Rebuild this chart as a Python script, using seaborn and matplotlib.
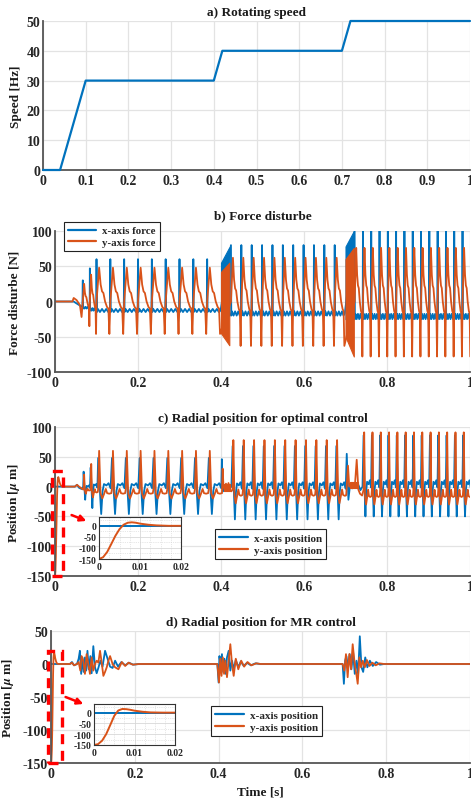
import numpy as np
import matplotlib
matplotlib.use("Agg")
import matplotlib.pyplot as plt
import seaborn as sns
from matplotlib.patches import Rectangle, FancyArrowPatch
from matplotlib.lines import Line2D

# ---------------- data ----------------
# a) rotating speed
speed_t = [0, 0.04, 0.10, 0.40, 0.42, 0.70, 0.72, 1.00]
speed_hz = [0, 0, 30, 30, 40, 40, 50, 50]

# b) force disturbance: one-revolution shapes (phase 0 = x spike)
b_x_phase = [0.00, 0.03, 0.10, 0.25, 0.40, 0.55, 0.70, 0.85, 0.97]
b_x_shape = [1.00, 0.00, 0.06, 0.00, 0.06, 0.00, 0.06, 0.00, 0.03]
b_y_phase = [0.00, 0.19, 0.30, 0.40, 0.50, 0.62, 0.76, 0.86, 0.93]
b_y_shape = [0.00, 1.00, 0.50, 0.30, 0.25, 0.00, -0.17, -0.22, -1.00]
b_seg_start = [0.100, 0.424, 0.722]
b_seg_end = [0.380, 0.690, 0.990]
b_seg_freq = [30, 40, 50]
b_x_peak = [60, 80, 100]
b_x_base = [-15, -20, -25]
b_y_peak = [48, 62, 76]
b_y_min = [-46, -63, -78]
b_acc_t = [0.067, 0.084]
b_acc_T = [0.017, 0.016]
b_acc_x_peak = [30, 47]
b_acc_x_base = [-10, -13]
b_acc_y_peak = [25, 38]
b_acc_y_min = [-35, -46]
b_pre_x_t = [0, 0.045, 0.050, 0.058, 0.066]
b_pre_x = [0, 0, -2, -5, -8]
b_pre_y_t = [0, 0.042, 0.045, 0.052, 0.060, 0.064]
b_pre_y = [0, 0, 5, 2, -5, -22]
b_block_t = [[0.400, 0.420], [0.700, 0.720]]
b_block_x_lo = [[-15, -20], [-25, -25]]
b_block_x_hi = [[55, 77], [78, 100]]
b_block_y_lo = [[-45, -62], [-50, -78]]
b_block_y_hi = [[42, 55], [60, 76]]

# c) optimal control position
c_x_phase = [0.00, 0.10, 0.22, 0.32, 0.42, 0.60, 0.75, 0.90]
c_x_shape = [1.00, 0.00, -1.00, -0.20, 0.05, 0.00, 0.08, -0.10]
c_y_phase = [0.00, 0.07, 0.17, 0.30, 0.42, 0.55, 0.65, 0.80, 0.95]
c_y_shape = [0.10, 1.00, 0.00, -1.00, -0.20, 0.10, 0.00, -0.10, 0.00]
c_seg_start = [0.104, 0.428, 0.7436]
c_seg_end = [0.380, 0.690, 0.990]
c_seg_freq = [30, 40, 50]
c_x_peak = [48, 68, 86]
c_x_base = [2, 2, 4]
c_x_min = [-46, -55, -50]
c_y_peak = [60, 78, 91]
c_y_base = [-11, -14, -16]
c_y_min = [-20, -28, -30]
c_acc_t = [0.069, 0.086]
c_acc_T = [0.017, 0.018]
c_acc_x_peak = [25, 32]
c_acc_x_base = [0, 2]
c_acc_x_min = [-22, -36]
c_acc_y_peak = [20, 38]
c_acc_y_base = [-6, -9]
c_acc_y_min = [-12, -18]
c_init_t = [0, 0.001, 0.002, 0.003, 0.004, 0.005, 0.006, 0.007, 0.008, 0.009, 0.010, 0.012, 0.014, 0.017, 0.020]
c_init_y = [-150, -142, -118, -82, -45, -15, 5, 14, 16, 14, 10, 5, 2, 0, 0]
c_pre_x_t = [0, 0.048, 0.053, 0.058, 0.064, 0.068]
c_pre_x = [0, 0, 3, -2, -4, 0]
c_pre_y_t = [0.030, 0.048, 0.053, 0.058, 0.064, 0.068]
c_pre_y = [0, 0, 3, 0, -3, -5]
c_tr1_x_t = [0.402, 0.405, 0.409, 0.413, 0.417, 0.421, 0.425]
c_tr1_x = [46, -8, 2, -4, 3, -3, 0]
c_tr1_y_t = [0.404, 0.406, 0.409, 0.412, 0.415, 0.418, 0.421, 0.425]
c_tr1_y = [30, 0, -6, 5, -5, 6, -4, -8]
c_tr2_x_t = [0.703, 0.707, 0.711, 0.716, 0.721, 0.726, 0.731, 0.736, 0.741]
c_tr2_x = [55, -22, 3, -3, 4, -2, 3, -6, 0]
c_tr2_y_t = [0.701, 0.706, 0.709, 0.713, 0.718, 0.723, 0.727, 0.731, 0.735, 0.740]
c_tr2_y = [-15, 35, 0, 5, 0, 5, 45, -5, -12, -15]
c_blob_t = [[0.408, 0.421], [0.712, 0.730]]
c_blob_lo = [[-7, -7], [-2, -2]]
c_blob_hi = [[5, 5], [8, 8]]

# d) MR control position
d_x_t = [0, 0.045, 0.050, 0.055, 0.062, 0.066, 0.069, 0.072, 0.075, 0.078, 0.081, 0.084, 0.087, 0.090,
         0.094, 0.097, 0.101, 0.105, 0.109, 0.113, 0.118, 0.123, 0.129, 0.135, 0.141, 0.147, 0.153,
         0.160, 0.168, 0.177, 0.186, 0.196, 0.210,
         0.397, 0.400, 0.402, 0.405, 0.408, 0.411, 0.414, 0.417, 0.420, 0.424, 0.428, 0.432, 0.436,
         0.441, 0.447, 0.453, 0.460, 0.468, 0.477, 0.488, 0.500,
         0.696, 0.699, 0.702, 0.705, 0.709, 0.713, 0.717, 0.721, 0.725, 0.729, 0.733, 0.737, 0.741,
         0.745, 0.750, 0.755, 0.761, 0.768, 0.776, 0.785, 0.795, 1.0]
d_x = [0, 0, 3, -2, 0, 8, 20, -15, 10, -12, 10, -10, 20, -8,
       12, -14, 27, -5, -14, -6, 5, -4, 20, 8, -4, -6, 5,
       -4, 3, -2, 2, -1, 0,
       0, -28, 12, -5, 15, -12, 8, -15, 10, 20, -10, 5, -8,
       6, -5, 4, -3, 2, -2, 1, 0,
       0, -30, 5, 12, -5, 15, -8, 18, -15, 5, -15, 42, -5,
       -12, 10, -5, 5, -3, 3, -1, 0, 0]
d_init_t = [0, 0.001, 0.002, 0.003, 0.004, 0.005, 0.006, 0.007, 0.008, 0.009, 0.010, 0.012, 0.014, 0.017, 0.020]
d_init_y = [-150, -146, -130, -100, -58, -15, 10, 17, 16, 13, 9, 4, 1, 0, 0]
d_y_t = [0.045, 0.050, 0.055, 0.062, 0.066, 0.070, 0.073, 0.077, 0.081, 0.085, 0.089, 0.093, 0.097,
         0.101, 0.105, 0.109, 0.113, 0.117, 0.121, 0.125, 0.129, 0.133, 0.137, 0.141, 0.147, 0.153,
         0.161, 0.169, 0.177, 0.185, 0.195, 0.210,
         0.397, 0.401, 0.404, 0.407, 0.410, 0.413, 0.416, 0.420, 0.424, 0.428, 0.432, 0.436, 0.441,
         0.447, 0.454, 0.461, 0.469, 0.478, 0.490, 0.500,
         0.696, 0.700, 0.704, 0.708, 0.712, 0.716, 0.720, 0.724, 0.728, 0.732, 0.736, 0.740, 0.744,
         0.749, 0.754, 0.760, 0.767, 0.775, 0.784, 0.795, 1.0]
d_y = [0, 2, -2, 0, 3, -10, 12, 5, -15, 15, 0, -15, 10,
       -10, 0, 5, 2, 20, 2, -18, -12, -5, 5, 12, 0, -5,
       -8, 3, -3, 2, -1, 0,
       0, -28, 8, -18, 10, -15, 5, -20, 5, 30, 0, -18, 8,
       -8, 5, -4, 3, -2, 1, 0,
       0, -10, 15, -20, 15, -8, 30, 5, -12, -30, 10, -5, 5,
       -5, 6, -3, 2, -2, 1, 0, 0]

BLUE = "#0072BD"
ORANGE = "#D95319"


def tile(starts, periods, peaks, bases, mins, phase, shape):
    ph = np.asarray(phase, float)
    sh = np.asarray(shape, float)
    xs, ys = [], []
    for t0, T, hi, b, lo in zip(starts, periods, peaks, bases, mins):
        xs.append(t0 + ph * T)
        ys.append(b + np.where(sh >= 0, sh * (hi - b), sh * (b - lo)))
    return list(np.concatenate(xs)), list(np.concatenate(ys))


def seg_pulses(seg_start, seg_end, seg_freq):
    st, per, idx = [], [], []
    for i, (s, e, f) in enumerate(zip(seg_start, seg_end, seg_freq)):
        for t0 in np.arange(s, e, 1.0 / f):
            st.append(t0); per.append(1.0 / f); idx.append(i)
    return st, per, idx


# ---- build b series
st, per, idx = seg_pulses(b_seg_start, b_seg_end, b_seg_freq)
bx_t, bx_v = list(b_pre_x_t), list(b_pre_x)
t_, v_ = tile(b_acc_t, b_acc_T, b_acc_x_peak, b_acc_x_base, b_acc_x_base, b_x_phase, b_x_shape)
bx_t += t_; bx_v += v_
t_, v_ = tile(st, per, [b_x_peak[i] for i in idx], [b_x_base[i] for i in idx],
              [b_x_base[i] for i in idx], b_x_phase, b_x_shape)
bx_t += t_; bx_v += v_
by_t, by_v = list(b_pre_y_t), list(b_pre_y)
t_, v_ = tile(b_acc_t, b_acc_T, b_acc_y_peak, [0, 0], b_acc_y_min, b_y_phase, b_y_shape)
by_t += t_; by_v += v_
t_, v_ = tile(st, per, [b_y_peak[i] for i in idx], [0] * len(idx),
              [b_y_min[i] for i in idx], b_y_phase, b_y_shape)
by_t += t_; by_v += v_

# ---- build c series
st, per, idx = seg_pulses(c_seg_start, c_seg_end, c_seg_freq)
cx_t, cx_v = list(c_pre_x_t), list(c_pre_x)
t_, v_ = tile(c_acc_t, c_acc_T, c_acc_x_peak, c_acc_x_base, c_acc_x_min, c_x_phase, c_x_shape)
cx_t += t_; cx_v += v_
t_, v_ = tile(st, per, [c_x_peak[i] for i in idx], [c_x_base[i] for i in idx],
              [c_x_min[i] for i in idx], c_x_phase, c_x_shape)
cx_t += t_; cx_v += v_
cx_t += c_tr1_x_t + c_tr2_x_t
cx_v += c_tr1_x + c_tr2_x
ordx = np.argsort(cx_t, kind="stable")
cx_t = list(np.asarray(cx_t)[ordx]); cx_v = list(np.asarray(cx_v)[ordx])

cy_t, cy_v = list(c_init_t) + list(c_pre_y_t), list(c_init_y) + list(c_pre_y)
t_, v_ = tile(c_acc_t, c_acc_T, c_acc_y_peak, c_acc_y_base, c_acc_y_min, c_y_phase, c_y_shape)
cy_t += t_; cy_v += v_
t_, v_ = tile(st, per, [c_y_peak[i] for i in idx], [c_y_base[i] for i in idx],
              [c_y_min[i] for i in idx], c_y_phase, c_y_shape)
cy_t += t_; cy_v += v_
cy_t += c_tr1_y_t + c_tr2_y_t
cy_v += c_tr1_y + c_tr2_y
ordy = np.argsort(cy_t, kind="stable")
cy_t = list(np.asarray(cy_t)[ordy]); cy_v = list(np.asarray(cy_v)[ordy])

# ---------------- style ----------------
sns.set_theme(style="whitegrid")
plt.rcParams["font.family"] = ["Liberation Serif", "DejaVu Serif"]
plt.rcParams["font.weight"] = "bold"
plt.rcParams["axes.unicode_minus"] = False
plt.rcParams["mathtext.fontset"] = "stix"

W, H = 471, 803
fig = plt.figure(figsize=(W / 100, H / 100), dpi=100)


def px_axes(left, top, right, bottom):
    return fig.add_axes([left / W, 1 - bottom / H, (right - left) / W, (bottom - top) / H])


def style_main(ax, xt, xl, yt, yl, ylim):
    ax.set_xlim(0, 1)
    ax.set_ylim(*ylim)
    ax.set_xticks(xt)
    ax.set_xticklabels(xl)
    ax.set_yticks(yt)
    ax.set_yticklabels(yl)
    ax.set_facecolor("white")
    ax.grid(True, color="#e3e3e3", lw=0.9)
    for s in ["top", "right"]:
        ax.spines[s].set_visible(False)
    for s in ["left", "bottom"]:
        ax.spines[s].set_visible(True)
        ax.spines[s].set_color("#555555")
        ax.spines[s].set_linewidth(1.3)
    ax.tick_params(axis="both", labelsize=10, colors="#262626", direction="in",
                   length=3, width=0.8, pad=2)
    ax.tick_params(axis="x", pad=3)
    for lab in ax.get_xticklabels() + ax.get_yticklabels():
        lab.set_fontweight("bold")
    ax.set_xlabel("")
    ax.set_ylabel("")


def line(ax, x, y, color, lw=1.3, z=2):
    sns.lineplot(x=x, y=y, ax=ax, color=color, lw=lw, estimator=None, sort=False,
                 legend=False, zorder=z)


def legend(ax, labels, anchor, fs):
    hs = [Line2D([0], [0], color=BLUE, lw=1.6), Line2D([0], [0], color=ORANGE, lw=1.6)]
    lg = ax.legend(hs, labels, loc="upper left", bbox_to_anchor=anchor, borderaxespad=0,
                   frameon=True, fancybox=False, framealpha=1, edgecolor="#222222",
                   prop={"family": "Liberation Serif", "weight": "bold", "size": fs},
                   handlelength=2.6, handletextpad=0.6, borderpad=0.35, labelspacing=0.2)
    lg.get_frame().set_linewidth(0.8)
    lg.set_zorder(10)


def inset(left, top, right, bottom, it, iy):
    ax = px_axes(left, top, right, bottom)
    line(ax, [0, 0.02], [0, 0], BLUE, lw=1.4)
    line(ax, it, iy, ORANGE, lw=1.4)
    ax.set_xlim(0, 0.02)
    ax.set_ylim(-150, 40)
    ax.set_xticks([0, 0.01, 0.02]); ax.set_xticklabels(["0", "0.01", "0.02"])
    ax.set_yticks([-150, -100, -50, 0]); ax.set_yticklabels(["-150", "-100", "-50", "0"])
    ax.set_xticks([0.0025, 0.005, 0.0075, 0.0125, 0.015, 0.0175], minor=True)
    ax.set_yticks([-125, -75, -25, 25], minor=True)
    ax.set_facecolor("white")
    ax.grid(True, which="major", color="#d8d8d8", lw=0.6)
    ax.grid(True, which="minor", color="#d0d0d0", lw=0.5, ls=":")
    for s in ax.spines.values():
        s.set_visible(True); s.set_color("#333333"); s.set_linewidth(0.8)
    ax.tick_params(axis="both", which="both", labelsize=7, colors="#262626", length=0, pad=2)
    for lab in ax.get_xticklabels() + ax.get_yticklabels():
        lab.set_fontweight("bold")
    ax.set_xlabel(""); ax.set_ylabel("")
    return ax


tfont = dict(fontsize=9.5, fontweight="bold", color="#1a1a1a")
lfont = dict(fontsize=9.5, fontweight="bold", color="#1a1a1a")

# ---- a
axa = px_axes(43, 22, 470, 171)
sns.lineplot(x=speed_t, y=speed_hz, ax=axa, color=BLUE, lw=1.6, estimator=None, sort=False,
             clip_on=False, zorder=3)
style_main(axa, np.round(np.arange(0, 1.01, 0.1), 1),
           ["0"] + [f"{v:.1f}" for v in np.arange(0.1, 0.95, 0.1)] + ["1"],
           [0, 10, 20, 30, 40, 50], ["0", "10", "20", "30", "40", "50"], (0, 50))
axa.set_title("a) Rotating speed", pad=4, **tfont)
axa.set_ylabel("Speed [Hz]", **lfont)
axa.yaxis.set_label_coords(-0.049, 0.5)

xt5 = [0, 0.2, 0.4, 0.6, 0.8, 1.0]
xl5 = ["0", "0.2", "0.4", "0.6", "0.8", "1"]

# ---- b
axb = px_axes(55, 232, 470, 373)
line(axb, bx_t, bx_v, BLUE, lw=1.3, z=2)
line(axb, by_t, by_v, ORANGE, lw=1.3, z=2.2)
for bt, lo, hi in zip(b_block_t, b_block_x_lo, b_block_x_hi):
    axb.fill_between(bt, lo, hi, color=BLUE, lw=0.8, zorder=2.1)
for bt, lo, hi in zip(b_block_t, b_block_y_lo, b_block_y_hi):
    axb.fill_between(bt, lo, hi, color=ORANGE, lw=0.8, zorder=2.3)
style_main(axb, xt5, xl5, [-100, -50, 0, 50, 100], ["-100", "-50", "0", "50", "100"], (-100, 100))
axb.set_title("b) Force disturbe", pad=9, **tfont)
axb.set_ylabel("Force disturbe [N]", **lfont)
axb.yaxis.set_label_coords(-0.082, 0.5)
legend(axb, ["x-axis force", "y-axis force"], ((64 - 55) / 415, (373 - 223) / 141), 7.8)

# ---- c
axc = px_axes(55, 428, 470, 577)
line(axc, cx_t, cx_v, BLUE, lw=1.3, z=2)
line(axc, cy_t, cy_v, ORANGE, lw=1.3, z=2.2)
for bt, lo, hi in zip(c_blob_t, c_blob_lo, c_blob_hi):
    axc.fill_between(bt, lo, hi, color=ORANGE, lw=0.8, zorder=2.3)
style_main(axc, xt5, xl5, [-150, -100, -50, 0, 50, 100],
           ["-150", "-100", "-50", "0", "50", "100"], (-150, 100))
axc.set_title("c) Radial position for optimal control", pad=4, **tfont)
axc.set_ylabel("Position [$\\mu$ m]", **lfont)
axc.yaxis.set_label_coords(-0.080, 0.5)
legend(axc, ["x-axis position", "y-axis position"], ((215 - 55) / 415, (577 - 530) / 149), 8)
axc.add_patch(Rectangle((-0.007, -150), 0.026, 176, fill=False, ec="red", lw=2.4,
                        ls=(0, (3, 2)), clip_on=False, zorder=5))
fig.add_artist(FancyArrowPatch(
    (69 / W, 1 - 515 / H), (89 / W, 1 - 523 / H), transform=fig.transFigure,
    arrowstyle="-|>", mutation_scale=9, color="red", lw=1.8))
inset(99, 518, 181, 560, c_init_t, c_init_y)

# ---- d
axd = px_axes(51, 632, 470, 764)
line(axd, d_x_t, d_x, BLUE, lw=1.3, z=2)
line(axd, d_init_t + d_y_t, d_init_y + d_y, ORANGE, lw=1.3, z=2.2)
style_main(axd, xt5, xl5, [-150, -100, -50, 0, 50],
           ["-150", "-100", "-50", "0", "50"], (-150, 50))
axd.set_title("d) Radial position for MR control", pad=4, **tfont)
axd.set_ylabel("Position [$\\mu$ m]", **lfont)
axd.yaxis.set_label_coords(-0.0835, 0.5)
axd.set_xlabel("Time [s]", labelpad=4, **lfont)
legend(axd, ["x-axis position", "y-axis position"], ((211 - 51) / 419, (764 - 707) / 132), 8)
axd.add_patch(Rectangle((-0.007, -150), 0.034, 170, fill=False, ec="red", lw=2.4,
                        ls=(0, (3, 2)), clip_on=False, zorder=5))
fig.add_artist(FancyArrowPatch(
    (63 / W, 1 - 697 / H), (86 / W, 1 - 706 / H), transform=fig.transFigure,
    arrowstyle="-|>", mutation_scale=9, color="red", lw=1.8))
inset(94, 705, 175, 746, d_init_t, d_init_y)

fig.savefig("out.png", dpi=100, facecolor="white")
